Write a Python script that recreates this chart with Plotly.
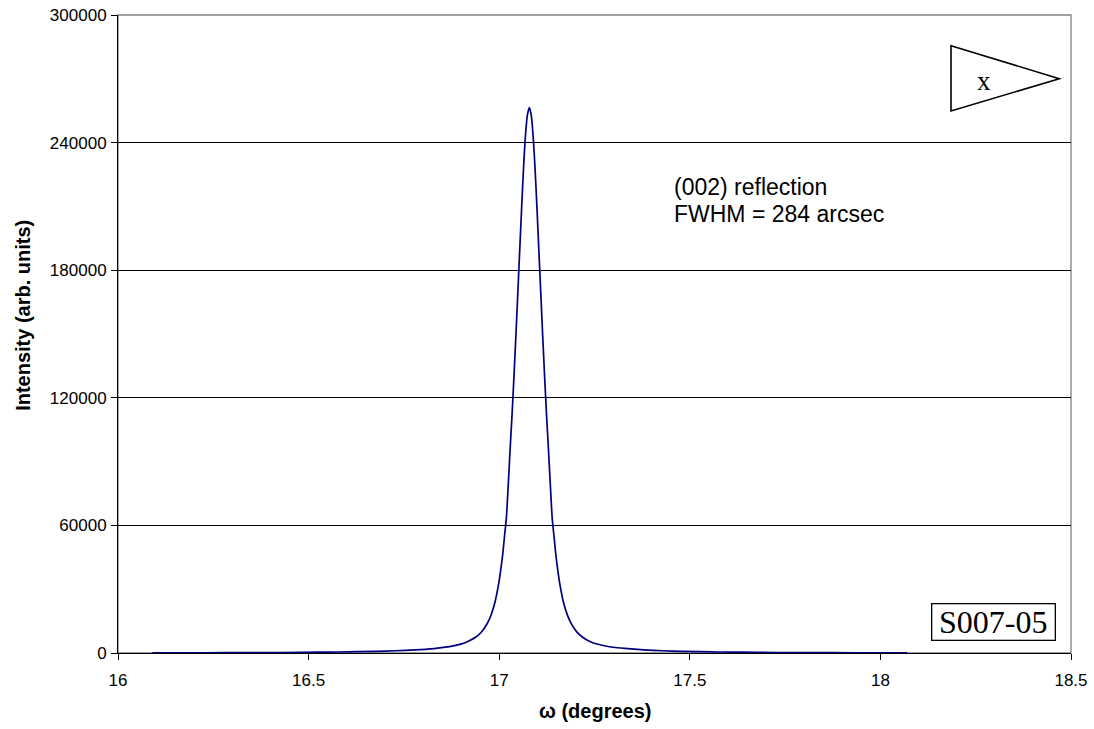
import plotly.graph_objects as go

# omega (degrees) and intensity (arb. units)
omega = [16.090, 16.179, 16.279, 16.379, 16.479, 16.579, 16.679, 16.729, 16.779, 16.829,
         16.859, 16.879, 16.899, 16.919, 16.939, 16.954, 16.969, 16.979, 16.989, 16.999,
         17.004, 17.009, 17.014, 17.019, 17.024, 17.029, 17.034, 17.039, 17.044, 17.049,
         17.054, 17.059, 17.064, 17.069, 17.074, 17.079, 17.084, 17.089, 17.094, 17.099,
         17.104, 17.109, 17.114, 17.119, 17.124, 17.129, 17.134, 17.139, 17.144, 17.149,
         17.154, 17.159, 17.169, 17.179, 17.189, 17.204, 17.219, 17.239, 17.259, 17.279,
         17.299, 17.329, 17.379, 17.429, 17.479, 17.579, 17.679, 17.779, 17.879, 17.979,
         18.070]
intensity = [90, 110, 150, 200, 290, 460, 800, 1050, 1450, 2100,
             2750, 3350, 4150, 5550, 7500, 10000, 14000, 18000, 24000, 33000,
             39000, 46000, 55000, 64000, 80000, 97000, 113000, 131000, 150000, 170000,
             190000, 210000, 228500, 243500, 253000, 256500, 253000, 243000, 228000, 209500,
             189500, 169500, 149500, 130500, 112500, 96500, 79500, 63500, 54500, 45500,
             38500, 32500, 23500, 17800, 13800, 9800, 7400, 5300, 4100, 3300,
             2700, 2150, 1500, 1050, 800, 470, 300, 200, 150, 110,
             90]

x_ticks = [16, 16.5, 17, 17.5, 18, 18.5]
y_ticks = [0, 60000, 120000, 180000, 240000, 300000]

SANS = "Liberation Sans, Arial, sans-serif"
SERIF = "Liberation Serif, Times New Roman, serif"

fig = go.Figure()
fig.add_trace(go.Scatter(x=omega, y=intensity, mode="lines",
                         line=dict(color="#000080", width=1.7, shape="spline", smoothing=0.6),
                         showlegend=False, hoverinfo="skip"))

fig.update_layout(
    width=1094, height=729,
    margin=dict(l=118, r=23, t=15, b=76, autoexpand=False),
    paper_bgcolor="white", plot_bgcolor="white",
    font=dict(family=SANS, size=17, color="black"),
    xaxis=dict(range=[16, 18.5], tickvals=x_ticks, ticktext=[str(v) for v in x_ticks],
               showgrid=False, zeroline=False, showline=True, linecolor="#000000", linewidth=1,
               ticks="outside", ticklen=6, tickcolor="#000000", automargin=False,
               ticklabelstandoff=6,
               tickfont=dict(family=SANS, size=17, color="black")),
    yaxis=dict(range=[0, 300000], tickvals=y_ticks, ticktext=[str(v) for v in y_ticks],
               showgrid=True, gridcolor="#000000", gridwidth=1, zeroline=False,
               showline=True, linecolor="#000000", linewidth=1, automargin=False,
               ticks="outside", ticklen=6, tickcolor="#000000", ticklabelstandoff=1,
               tickfont=dict(family=SANS, size=17, color="black")),
    shapes=[
        dict(type="rect", xref="paper", yref="paper", x0=0, x1=1, y0=0, y1=1,
             line=dict(color="#808080", width=1.3), layer="below"),
        dict(type="path", xref="paper", yref="paper",
             path="M 0.8741 0.9519 L 0.9877 0.9002 L 0.8741 0.8495 Z",
             line=dict(color="black", width=1.6), fillcolor="rgba(0,0,0,0)"),
    ],
    annotations=[
        dict(text="(002) reflection", xref="paper", yref="paper", x=0.5813, y=0.7304,
             xanchor="left", yanchor="middle", showarrow=False,
             font=dict(family=SANS, size=23, color="black")),
        dict(text="FWHM = 284 arcsec", xref="paper", yref="paper", x=0.5813, y=0.6881,
             xanchor="left", yanchor="middle", showarrow=False,
             font=dict(family=SANS, size=23, color="black")),
        dict(text="x", xref="paper", yref="paper", x=0.9087, y=0.897,
             xanchor="center", yanchor="middle", showarrow=False,
             font=dict(family=SERIF, size=27, color="black")),
        dict(text="S007-05", xref="paper", yref="paper", x=0.9192, y=0.0486,
             xanchor="center", yanchor="middle", showarrow=False,
             width=120, height=33, align="center", valign="middle",
             bordercolor="black", borderwidth=1.3, borderpad=1, bgcolor="white",
             font=dict(family=SERIF, size=32, color="black")),
        dict(text="<b>Intensity (arb. units)</b>", xref="paper", yref="paper",
             x=-0.0997, y=0.53, xanchor="center", yanchor="middle", textangle=-90,
             showarrow=False, font=dict(family=SANS, size=20, color="black")),
        dict(text="<b>ω (degrees)</b>", xref="paper", yref="paper",
             x=0.5, y=-0.0909, xanchor="center", yanchor="middle",
             showarrow=False, font=dict(family=SANS, size=20, color="black")),
    ],
)

fig.write_html("out.html", config={"displayModeBar": False},
               post_script="document.body.style.margin='0';document.body.style.overflow='hidden';")
